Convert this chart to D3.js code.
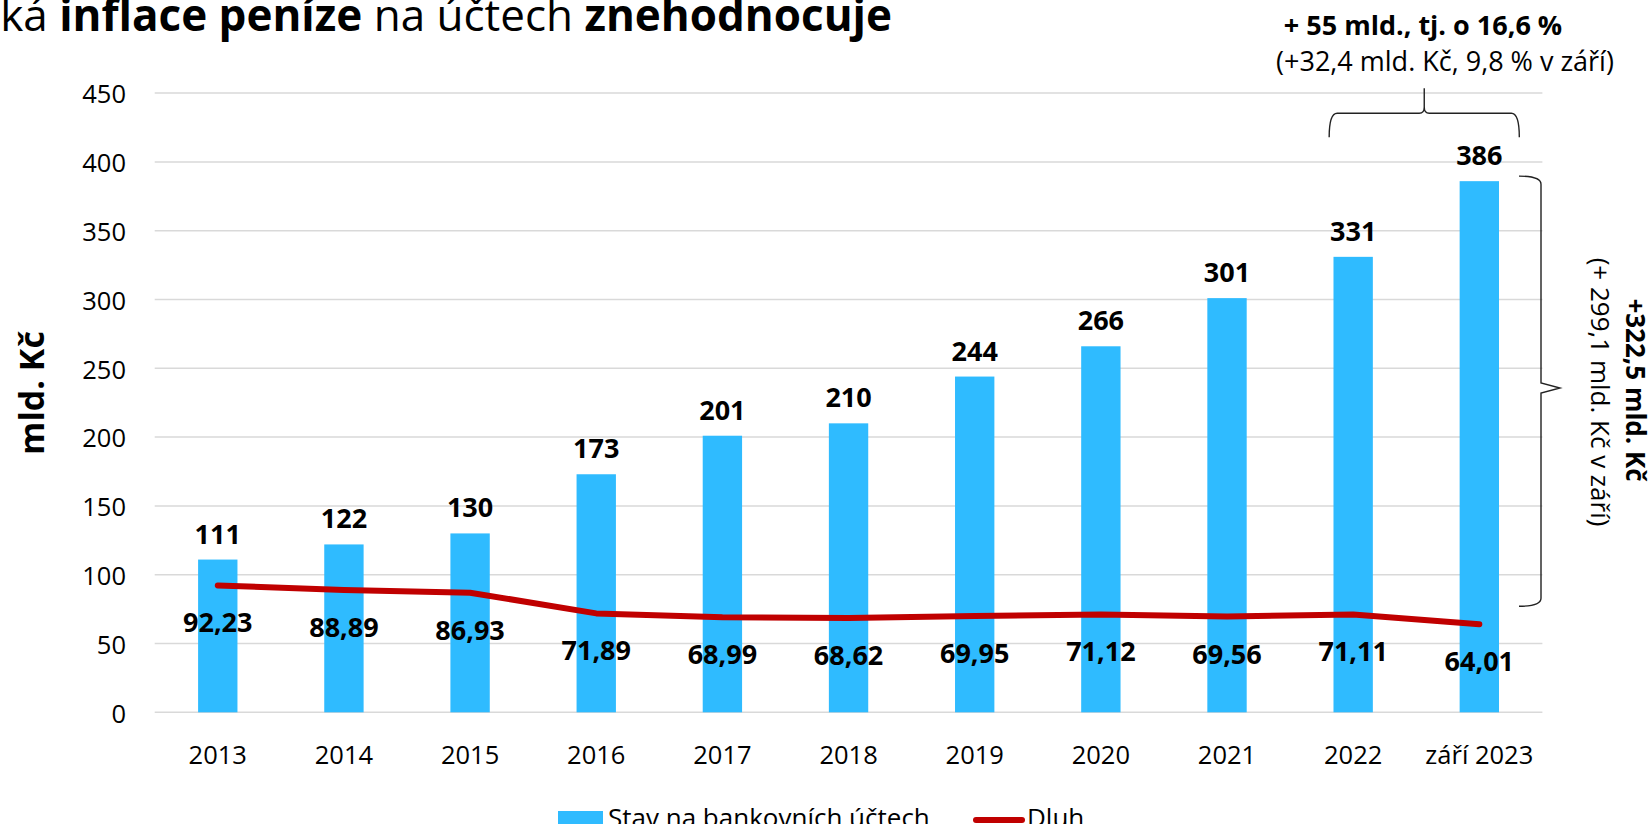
<!DOCTYPE html>
<html><head><meta charset="utf-8">
<script src="https://cdn.jsdelivr.net/npm/d3@7"></script>
<style>
html,body{margin:0;padding:0;background:#fff;overflow:hidden;}
text{font-family:"Open Sans","Noto Sans",sans-serif;fill:#000;}
</style></head>
<body>
<svg id="chart" width="1650" height="824"></svg>
<script>
const categories = ["2013","2014","2015","2016","2017","2018","2019","2020","2021","2022","září 2023"];
const accounts = [111,122,130,173,201,210,244,266,301,331,386];
const debt = [92.23,88.89,86.93,71.89,68.99,68.62,69.95,71.12,69.56,71.11,64.01];
const yTicks = [0,50,100,150,200,250,300,350,400,450];
const seriesNames = ["Stav na bankovních účtech","Dluh"];

(function(){
const svg = d3.select("#chart");
const pLeft = 154.7, pRight = 1542.4, pTop = 93.1, pBottom = 712.3;

const x = d3.scaleBand().domain(categories).range([pLeft, pRight]).paddingInner(0.688).paddingOuter(0.344);
const xc = d => x(d) + x.bandwidth()/2;
const y = d3.scaleLinear().domain([0,450]).range([pBottom, pTop]);

const barColor = "#2fbbff", lineColor = "#c00000";
const fmt = v => d3.format(".2f")(v).replace(".", ",");

// gridlines
svg.append("g").selectAll("line").data(yTicks).join("line")
  .attr("x1", pLeft).attr("x2", pRight)
  .attr("y1", d => y(d)).attr("y2", d => y(d))
  .attr("stroke", "#d9d9d9").attr("stroke-width", 1.5);

// y axis labels
const yAxis = d3.axisLeft(y).tickValues(yTicks).tickSize(0).tickPadding(0);
const gy = svg.append("g").attr("transform", `translate(126,0)`).call(yAxis);
gy.select(".domain").remove();
gy.selectAll("text").attr("font-size", 25.5).attr("font-family", '"Open Sans",sans-serif')
  .attr("fill", "#000").attr("dy", "0.38em").attr("x", 0);

// x axis labels
const xAxis = d3.axisBottom(x).tickSize(0).tickPadding(0);
const gx = svg.append("g").attr("transform", `translate(0,764)`).call(xAxis);
gx.select(".domain").remove();
gx.selectAll("text").attr("font-size", 25.5).attr("font-family", '"Open Sans",sans-serif')
  .attr("fill", "#000").attr("dy", 0).attr("y", 0);

// bars
svg.append("g").selectAll("rect").data(accounts).join("rect")
  .attr("x", (d,i) => x(categories[i]))
  .attr("width", x.bandwidth())
  .attr("y", d => y(d))
  .attr("height", d => y(0) - y(d))
  .attr("fill", barColor);

// bar labels
svg.append("g").selectAll("text").data(accounts).join("text")
  .attr("x", (d,i) => xc(categories[i]))
  .attr("y", d => y(d) - 16)
  .attr("text-anchor", "middle").attr("font-size", 27).attr("font-weight", "bold")
  .text(d => d);

// line
const line = d3.line().x((d,i) => xc(categories[i])).y(d => y(d));
svg.append("path").datum(debt).attr("d", line)
  .attr("fill", "none").attr("stroke", lineColor).attr("stroke-width", 6)
  .attr("stroke-linecap", "round").attr("stroke-linejoin", "round");

// line labels
svg.append("g").selectAll("text").data(debt).join("text")
  .attr("x", (d,i) => xc(categories[i]))
  .attr("y", d => y(d) + 47)
  .attr("text-anchor", "middle").attr("font-size", 27).attr("font-weight", "bold")
  .text(d => fmt(d));

// y axis title
svg.append("text").attr("transform", "translate(44,393) rotate(-90)")
  .attr("text-anchor", "middle").attr("font-size", 34).attr("font-weight", "bold")
  .text("mld. Kč");

// title
const title = svg.append("text").attr("x", 892).attr("y", 31).attr("text-anchor", "end").attr("font-size", 44);
title.append("tspan").text("ká ");
title.append("tspan").attr("font-weight", "bold").text("inflace peníze");
title.append("tspan").text(" na účtech ");
title.append("tspan").attr("font-weight", "bold").text("znehodnocuje");

// top annotation
svg.append("text").attr("x", 1423).attr("y", 35).attr("text-anchor", "middle")
  .attr("font-size", 27).attr("font-weight", "bold").text("+ 55 mld., tj. o 16,6 %");
svg.append("text").attr("x", 1445).attr("y", 71).attr("text-anchor", "middle")
  .attr("font-size", 27).text("(+32,4 mld. Kč, 9,8 % v září)");

// horizontal brace (above 2022 - 2023)
const bx1 = xc("2022") - 24, bx2 = xc("září 2023") + 40, bxm = (bx1 + bx2) / 2;
const by1 = 137.3, bym = 113.3, byt = 88.3;
svg.append("path")
  .attr("d", `M${bx1},${by1} Q${bx1},${bym} ${bx1+8},${bym} L${bxm-5},${bym} Q${bxm},${bym} ${bxm},${bym-6} L${bxm},${byt} M${bxm},${bym-6} Q${bxm},${bym} ${bxm+5},${bym} L${bx2-8},${bym} Q${bx2},${bym} ${bx2},${by1}`)
  .attr("fill", "none").attr("stroke", "#222").attr("stroke-width", 1.4);

// vertical brace (right of last bar)
const vx1 = 1519, vxm = 1541, vxt = 1560;
const vy1 = y(386) - 5, vy2 = y(64.01) - 18, vym = 388;
svg.append("path")
  .attr("d", `M${vx1},${vy1} Q${vxm},${vy1} ${vxm},${vy1+8} L${vxm},${vym-5} L${vxt},${vym} L${vxm},${vym+5} L${vxm},${vy2-8} Q${vxm},${vy2} ${vx1},${vy2}`)
  .attr("fill", "none").attr("stroke", "#222").attr("stroke-width", 1.4);

svg.append("text").attr("transform", "translate(1635,390) rotate(90)")
  .attr("text-anchor", "middle").attr("dy", "0.35em")
  .attr("font-size", 26).attr("font-weight", "bold").text("+322,5 mld. Kč");
svg.append("text").attr("transform", "translate(1600,392) rotate(90)")
  .attr("text-anchor", "middle").attr("dy", "0.35em")
  .attr("font-size", 26).text("(+ 299,1 mld. Kč v září)");

// legend
const lg = svg.append("g");
lg.append("rect").attr("x", 558).attr("y", 811).attr("width", 45).attr("height", 22).attr("fill", barColor);
lg.append("text").attr("x", 608).attr("y", 827).attr("font-size", 26).text(seriesNames[0]);
lg.append("line").attr("x1", 976).attr("x2", 1022).attr("y1", 820).attr("y2", 820)
  .attr("stroke", lineColor).attr("stroke-width", 6).attr("stroke-linecap", "round");
lg.append("text").attr("x", 1027).attr("y", 827).attr("font-size", 26).text(seriesNames[1]);
})();
</script>
</body></html>
